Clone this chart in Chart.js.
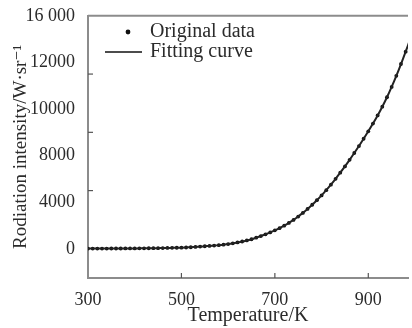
<!DOCTYPE html>
<html>
<head>
<meta charset="utf-8">
<script src="https://cdn.jsdelivr.net/npm/chart.js@4.4.1/dist/chart.umd.min.js"></script>
<style>
    html, body { margin: 0; padding: 0; background: #fff; }
    #wrap { width: 412px; height: 328px; }
</style>
</head>
<body>
<div id="wrap"><canvas id="chart" width="412" height="328"></canvas></div>
<script>
// Temperature (K) and radiation intensity
const temperatures = [
    300, 310, 320, 330, 340, 350, 360, 370, 380, 390,
    400, 410, 420, 430, 440, 450, 460, 470, 480, 490,
    500, 510, 520, 530, 540, 550, 560, 570, 580, 590,
    600, 610, 620, 630, 640, 650, 660, 670, 680, 690,
    700, 710, 720, 730, 740, 750, 760, 770, 780, 790,
    800, 810, 820, 830, 840, 850, 860, 870, 880, 890,
    900, 910, 920, 930, 940, 950, 960, 970, 980, 990
];
const intensity = [
    20, 20, 20, 22, 22, 24, 25, 26, 28, 30,
    32, 35, 38, 42, 46, 50, 56, 62, 70, 78,
    80, 95, 112, 132, 155, 180, 200, 225, 255, 290,
    330, 380, 440, 505, 580, 660, 765, 880, 1000, 1130,
    1270, 1420, 1590, 1780, 1990, 2220, 2470, 2740, 3030, 3340,
    3670, 4030, 4410, 4810, 5230, 5660, 6110, 6580, 7060, 7560,
    8070, 8600, 9160, 9760, 10410, 11120, 11880, 12690, 13540, 14420
];

const xTickValues = [300, 500, 700, 900];
const xMarkValues = [500, 700, 900];
// the labels in the source sit evenly spaced, not on the marks
const yLabelValues = [0, 3200, 6400, 9600, 12800, 16000];
const yTickLabels = ['0', '4000', '8000', '10000', '12000', '16 000'];
const yMarkValues = [4000, 8000, 12000];

const seriesNames = ['Original data', 'Fitting curve'];

const points = temperatures.map((t, i) => ({ x: t, y: intensity[i] }));

const serif = '"Liberation Serif", "DejaVu Serif", serif';
const textColor = '#2b2b2b';
const frameColor = '#8c8c8c';

const framePlugin = {
    id: 'frame',
    afterDraw(chart) {
        const ctx = chart.ctx;
        const area = chart.chartArea;
        const xs = chart.scales.x;
        const ys = chart.scales.y;
        ctx.save();

        // top border
        ctx.strokeStyle = frameColor;
        ctx.lineWidth = 2;
        ctx.beginPath();
        ctx.moveTo(area.left, area.top);
        ctx.lineTo(area.right, area.top);
        ctx.stroke();

        // inward tick marks
        ctx.strokeStyle = '#555';
        ctx.lineWidth = 1.2;
        xMarkValues.forEach(v => {
            const px = xs.getPixelForValue(v);
            ctx.beginPath();
            ctx.moveTo(px, area.bottom);
            ctx.lineTo(px, area.bottom - 5);
            ctx.stroke();
        });
        yMarkValues.forEach(v => {
            const py = ys.getPixelForValue(v);
            ctx.beginPath();
            ctx.moveTo(area.left, py);
            ctx.lineTo(area.left + 5, py);
            ctx.stroke();
        });

        // legend
        ctx.fillStyle = '#111';
        ctx.beginPath();
        ctx.arc(128, 32, 2.4, 0, Math.PI * 2);
        ctx.fill();
        ctx.strokeStyle = '#111';
        ctx.lineWidth = 1.4;
        ctx.beginPath();
        ctx.moveTo(105, 52);
        ctx.lineTo(142, 52);
        ctx.stroke();

        ctx.font = '20px ' + serif;
        ctx.fillStyle = textColor;
        ctx.textAlign = 'left';
        ctx.textBaseline = 'middle';
        ctx.fillText(seriesNames[0], 150, 32);
        ctx.fillText(seriesNames[1], 150, 52);
        ctx.restore();
    }
};

new Chart(document.getElementById('chart').getContext('2d'), {
    type: 'scatter',
    data: {
        datasets: [{
            label: seriesNames[1],
            data: points,
            showLine: true,
            borderColor: '#222',
            borderWidth: 2,
            pointRadius: 0,
            tension: 0.3
        }, {
            label: seriesNames[0],
            data: points,
            showLine: false,
            pointRadius: 1.9,
            pointBackgroundColor: '#111',
            pointBorderWidth: 0
        }]
    },
    options: {
        responsive: false,
        animation: false,
        layout: { padding: { top: 15, right: 0, left: 0, bottom: 0 } },
        plugins: {
            legend: { display: false },
            tooltip: { enabled: false }
        },
        scales: {
            x: {
                type: 'linear',
                min: 300,
                max: 985,
                afterBuildTicks: scale => {
                    scale.ticks = xTickValues.map(v => ({ value: v }));
                },
                afterFit: scale => { scale.height = 50; },
                grid: { display: false },
                border: { color: frameColor, width: 2 },
                ticks: {
                    padding: 3,
                    color: textColor,
                    font: { family: serif, size: 18 },
                    maxRotation: 0
                },
                title: {
                    display: true,
                    text: 'Temperature/K',
                    color: textColor,
                    font: { family: serif, size: 20 },
                    padding: { top: 0, bottom: 0 }
                }
            },
            y: {
                min: -2000,
                max: 16000,
                afterBuildTicks: scale => {
                    scale.ticks = yLabelValues.map(v => ({ value: v }));
                },
                afterFit: scale => { scale.width = 88; },
                grid: { display: false },
                border: { color: frameColor, width: 2 },
                ticks: {
                    padding: 5,
                    color: textColor,
                    font: { family: serif, size: 18 },
                    callback: (value, index) => yTickLabels[index]
                },
                title: {
                    display: true,
                    text: 'Rodiation intensity/W·sr⁻¹',
                    color: textColor,
                    font: { family: serif, size: 19 },
                    padding: { top: 10, bottom: 0 }
                }
            }
        }
    },
    plugins: [framePlugin]
});
</script>
</body>
</html>
